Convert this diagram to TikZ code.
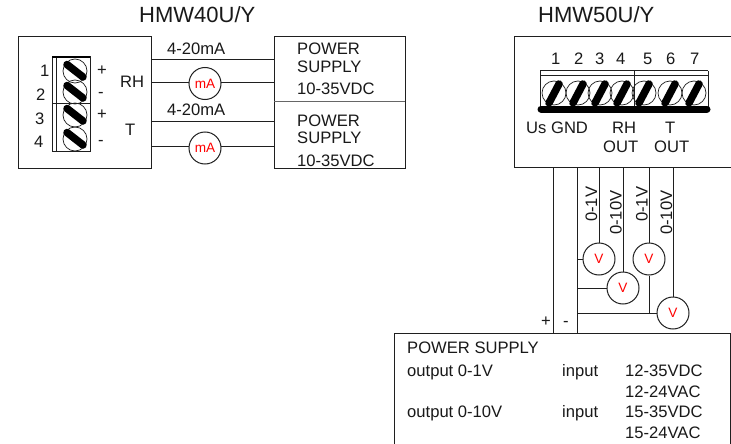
\documentclass[tikz,border=0pt]{standalone}
\usepackage{fontspec}
\setmainfont{Liberation Sans}
\definecolor{linegray}{gray}{0.12}
\tikzset{
  wire/.style={draw=linegray,line width=1pt},
  lab/.style={font=\fontsize{16.6}{16.6}\selectfont,inner sep=0pt,anchor=base west,text=black!90},
  vlab/.style={lab,rotate=90},
  heading/.style={font=\fontsize{22}{22}\selectfont,inner sep=0pt,anchor=base west,text=black!90},
  meter/.style={circle,draw=linegray,line width=1pt,fill=white,minimum size=32pt,inner sep=0pt,text=red,font=\fontsize{13.6}{13.6}\selectfont},
  screw/.style={circle,draw=linegray,line width=0.7pt,minimum size=24pt,inner sep=0pt},
  slot/.style={line width=7.5pt,line cap=round,draw=black}
}
\begin{document}
\begin{tikzpicture}[x=1pt,y=-1pt]
\useasboundingbox (0,0) rectangle (731,444);
\fill[white] (0,0) rectangle (731,444);
\node[heading] (t1) at (139,23) {HMW40U/Y};
\node[heading] (t2) at (538,23) {HMW50U/Y};
% left module
\node[draw=linegray,line width=1pt,minimum width=133pt,minimum height=131pt,inner sep=0pt] (mod1) at (84.5,102.5) {};
\coordinate (m1) at (151,60);
\coordinate (m2) at (151,83);
\coordinate (m3) at (151,121);
\coordinate (m4) at (151,146);
\draw[wire] (52,57) rectangle (90,151);
\draw[wire] (56.5,57) -- (56.5,151);
\draw[wire] (52,103.5) -- (90,103.5);
\draw[draw=black,line width=1.5pt] (52,57) -- (90,57);
\foreach \n/\yy in {a/71,b/92,c/115,d/139}{
  \node[screw] (s\n) at (75,\yy) {};
  \draw[slot] (67,\yy-6.5) -- (83,\yy+6);
}
\node[lab] (n1) at (40,77) {1};
\node[lab] (n2) at (36,100) {2};
\node[lab] (n3) at (35,124) {3};
\node[lab] (n4) at (34,147) {4};
\node[lab] (p1) at (97,76) {+};
\node[lab] (m1a) at (98,98) {-};
\node[lab] (p2) at (97,119) {+};
\node[lab] (m2a) at (98,145) {-};
\node[lab] (rh) at (120,88) {RH};
\node[lab] (tt) at (125,135) {T};
% left power supplies
\node[draw=linegray,line width=1pt,minimum width=131pt,minimum height=131pt,inner sep=0pt] (sup1) at (339.5,102.5) {};
\coordinate (b1) at (274,60);
\coordinate (b2) at (274,83);
\coordinate (b3) at (274,121);
\coordinate (b4) at (274,146);
\draw[wire] (m1) -- (b1);
\draw[wire] (m2) -- (b2);
\draw[wire] (m3) -- (b3);
\draw[wire] (m4) -- (b4);
\node[meter] (ma1) at (205,83.5) {\raisebox{-3pt}{mA}};
\node[meter] (ma2) at (205,148) {\raisebox{-0.5pt}{mA}};
\coordinate (d1) at (274,101);
\coordinate (d2) at (405,101);
\draw[draw=black!60,line width=1pt] (d1) -- (d2);
\node[lab] (l1) at (167,55) {4-20mA};
\node[lab] (l2) at (167,115) {4-20mA};
\node[lab] (ps1) at (297,55) {POWER};
\node[lab] (ps2) at (297,73) {SUPPLY};
\node[lab] (ps3) at (297,95) {10-35VDC};
\node[lab] (ps4) at (297,126) {POWER};
\node[lab] (ps5) at (297,143.5) {SUPPLY};
\node[lab] (ps6) at (297,166) {10-35VDC};
% right module
\draw[wire] (731,37) -- (514,37) -- (514,167.5) -- (731,167.5);
\foreach \t/\xx in {1/551,2/574,3/595,4/616,5/643,6/666,7/690}{
  \node[lab] (k\t) at (\xx,65) {\t};
}
\draw[wire] (540,71) -- (708,71);
\draw[wire] (540,76) -- (708,76);
\draw[wire] (540,71) -- (540,108);
\draw[wire] (708,71) -- (708,108);
\draw[wire] (634,71) -- (634,108);
\foreach \n/\xx in {a/554,b/578,c/600,d/622,e/644,f/670,g/694}{
  \node[screw] (q\n) at (\xx,93) {};
  \draw[slot] (\xx-5,103) -- (\xx+5,84);
}
\draw[line width=7pt,line cap=round,draw=black] (541,109) -- (707,109);
\node[lab] (us) at (526,133) {Us GND};
\node[lab] (rh2) at (612,133) {RH};
\node[lab] (t3) at (665,133) {T};
\node[lab] (o1) at (603,152) {OUT};
\node[lab] (o2) at (654,152) {OUT};
% lower supply
\draw[wire] (394,444) -- (394,333) -- (730,333) -- (730,444);
\coordinate (c1) at (553,167.5);
\coordinate (c2) at (577,167.5);
\coordinate (c3) at (599,167.5);
\coordinate (c4) at (623,167.5);
\coordinate (c5) at (649,167.5);
\coordinate (c6) at (673,167.5);
\coordinate (e1) at (553,333);
\coordinate (e2) at (577,333);
\draw[wire] (c1) -- (e1);
\draw[wire] (c2) -- (e2);
% voltmeters
\node[meter] (v1) at (599,259) {\raisebox{-1.7pt}{V}};
\node[meter] (v2) at (623,288) {\raisebox{-1pt}{V}};
\node[meter] (v3) at (649,259) {\raisebox{-1.7pt}{V}};
\node[meter] (v4) at (673,313) {\raisebox{-1pt}{V}};
\draw[wire] (c3) -- (v1.north);
\draw[wire] (c4) -- (v2.north);
\draw[wire] (c5) -- (v3.north);
\draw[wire] (c6) -- (v4.north);
\draw[wire] (c2 |- v1.west) -- (v1.west);
\draw[wire] (c2 |- v2.west) -- (v2.west);
\draw[wire] (c2 |- v4.west) -- (v4.west);
\draw[wire] (v3.south) -- (v3 |- v4.west);
\node[vlab] (r1) at (597,222) {0-1V};
\node[vlab] (r2) at (621.5,235) {0-10V};
\node[vlab] (r3) at (647.5,222) {0-1V};
\node[vlab] (r4) at (672,235) {0-10V};
\node[lab] (pl) at (541,326) {+};
\node[lab] (mi) at (563,326) {-};
\node[lab] (x0) at (407,353) {POWER SUPPLY};
\node[lab] (x1) at (407,376) {output 0-1V};
\node[lab] (x2) at (407,417) {output 0-10V};
\node[lab] (i1) at (562,376) {input};
\node[lab] (i2) at (562,417) {input};
\node[lab] (y1) at (625,376) {12-35VDC};
\node[lab] (y2) at (625,397) {12-24VAC};
\node[lab] (y3) at (625,417) {15-35VDC};
\node[lab] (y4) at (625,438) {15-24VAC};
\end{tikzpicture}
\end{document}
